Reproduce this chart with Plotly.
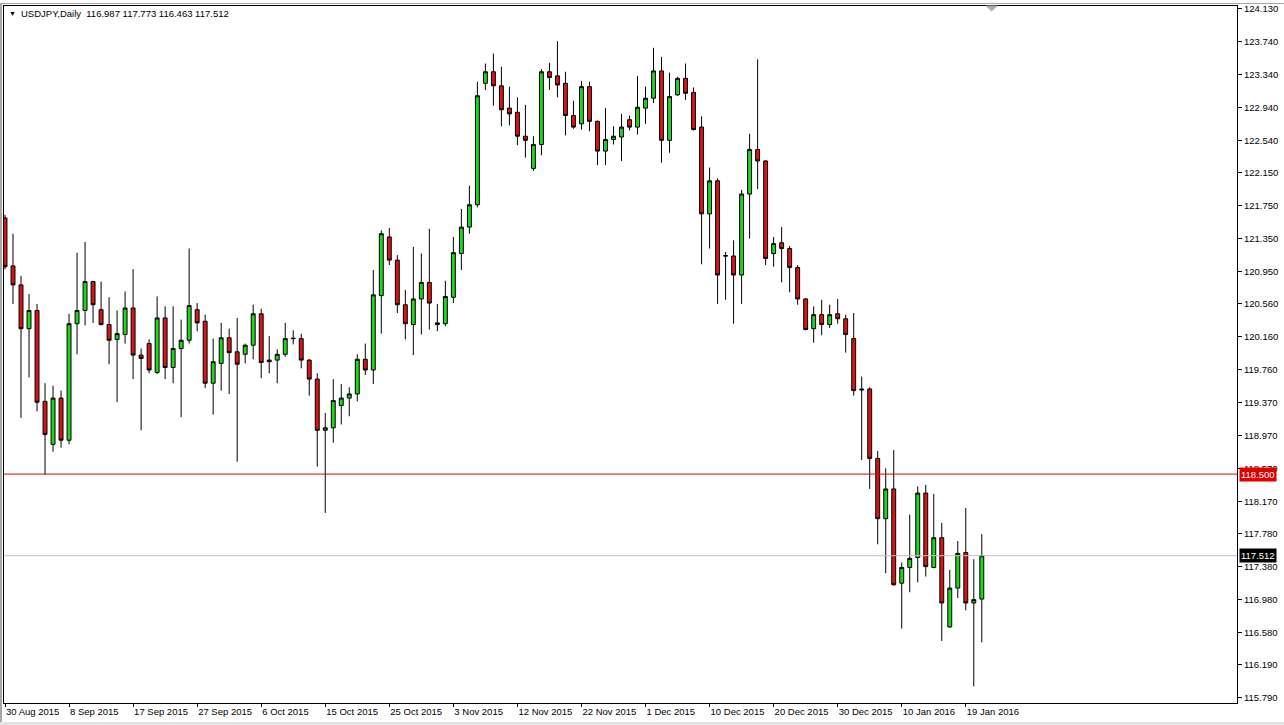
import pandas as pd
import plotly.graph_objects as go

# ---- categories: daily candles (broker with Sunday bars, no 25 Dec / 1 Jan bar)
dates = [d.strftime("%Y-%m-%d") for d in pd.date_range("2015-08-30", "2016-01-21")
         if d.weekday() != 5 and d.strftime("%m-%d") not in ("12-25", "01-01")]

open_ = [121.60, 121.02, 120.79, 120.26, 120.48, 119.38, 118.86, 119.42, 118.91, 120.32,
         120.48, 120.83, 120.49, 120.31, 120.13, 120.19, 120.51, 119.94, 120.08, 119.73,
         120.39, 119.79, 120.02, 120.12, 120.49, 120.35, 119.60, 119.84, 120.15, 119.98,
         119.95, 120.06, 120.44, 119.88, 119.88, 119.95, 120.145, 120.14, 119.88, 119.65,
         119.03, 119.06, 119.33, 119.42, 119.47, 119.89, 119.76, 120.66, 121.37, 121.09,
         120.55, 120.31, 120.62, 120.82, 120.31, 120.32, 120.64, 121.17, 121.49, 121.76,
         123.23, 123.37, 123.20, 122.93, 122.88, 122.59, 122.20, 122.49, 123.37, 123.32,
         123.23, 122.84, 122.74, 123.19, 122.77, 122.41, 122.55, 122.58, 122.79, 122.70,
         122.93, 123.05, 123.38, 122.54, 123.09, 123.29, 123.12, 122.70, 121.65, 122.05,
         121.145, 121.14, 120.91, 121.89, 122.43, 122.29, 121.17, 121.30, 121.23, 121.00,
         120.62, 120.26, 120.43, 120.31, 120.44, 120.38, 120.14, 119.53, 119.53, 118.69,
         117.96, 118.32, 117.18, 117.37, 117.49, 118.27, 117.37, 117.73, 116.65, 117.12,
         117.55, 116.94, 116.987]
high = [121.64, 121.41, 120.90, 120.68, 120.56, 119.60, 119.57, 119.51, 120.44, 121.18,
        121.31, 120.84, 120.83, 120.64, 120.48, 120.71, 120.98, 120.02, 120.13, 120.65,
        120.53, 120.53, 120.37, 121.23, 120.57, 120.43, 120.14, 120.33, 120.26, 120.39,
        120.08, 120.55, 120.50, 120.17, 120.01, 120.33, 120.24, 120.20, 119.89, 119.72,
        119.24, 119.65, 119.59, 119.55, 119.95, 120.08, 120.97, 121.45, 121.48, 121.15,
        120.73, 121.25, 121.17, 121.47, 120.56, 120.84, 121.37, 121.71, 121.99, 123.25,
        123.47, 123.59, 123.43, 123.19, 123.06, 122.97, 122.59, 123.40, 123.48, 123.74,
        123.37, 123.02, 123.26, 123.25, 122.78, 122.93, 122.71, 122.86, 122.84, 123.32,
        123.19, 123.66, 123.55, 123.36, 123.31, 123.47, 123.18, 122.83, 122.21, 122.08,
        121.19, 121.33, 121.94, 122.62, 123.52, 122.30, 121.37, 121.49, 121.26, 121.03,
        120.63, 120.53, 120.61, 120.55, 120.62, 120.43, 120.45, 119.68, 119.55, 118.78,
        118.57, 118.79, 117.43, 118.01, 118.35, 118.37, 118.26, 117.91, 117.34, 117.69,
        118.09, 117.47, 117.773]
low = [120.98, 120.56, 119.18, 119.67, 119.26, 118.49, 118.77, 118.82, 118.86, 119.95,
       120.30, 120.33, 120.30, 119.83, 119.37, 120.08, 119.65, 119.03, 119.72, 119.71,
       119.65, 119.60, 119.19, 120.08, 120.23, 119.54, 119.22, 119.51, 119.47, 118.65,
       119.84, 119.89, 119.66, 119.72, 119.60, 119.92, 120.07, 119.78, 119.45, 118.59,
       118.03, 118.88, 119.10, 119.20, 119.38, 119.70, 119.59, 120.20, 121.03, 120.45,
       120.13, 119.94, 120.19, 120.25, 120.23, 120.29, 120.57, 120.97, 121.41, 121.73,
       123.15, 122.96, 122.71, 122.72, 122.48, 122.33, 122.17, 122.36, 123.15, 123.06,
       122.60, 122.68, 122.67, 122.65, 122.24, 122.24, 122.49, 122.29, 122.66, 122.61,
       122.74, 122.99, 122.27, 122.39, 123.08, 123.03, 122.66, 121.04, 121.23, 120.56,
       120.61, 120.32, 120.56, 121.35, 121.95, 121.03, 121.01, 120.82, 120.70, 120.55,
       120.24, 120.09, 120.18, 120.27, 120.32, 119.97, 119.45, 118.67, 118.32, 117.65,
       117.30, 117.15, 116.63, 117.07, 117.19, 117.26, 117.36, 116.48, 116.64, 117.00,
       116.85, 115.93, 116.463]
close = [121.01, 120.79, 120.26, 120.48, 119.37, 118.98, 119.42, 118.91, 120.32, 120.48,
         120.83, 120.55, 120.31, 120.12, 120.20, 120.51, 119.94, 119.90, 119.76, 120.39,
         119.79, 120.02, 120.12, 120.54, 120.33, 119.60, 119.86, 120.15, 119.97, 119.83,
         120.06, 120.44, 119.85, 119.86, 119.95, 120.14, 120.14, 119.88, 119.65, 119.03,
         119.06, 119.39, 119.42, 119.47, 119.89, 119.76, 120.67, 121.41, 121.09, 120.55,
         120.32, 120.62, 120.82, 120.57, 120.33, 120.65, 121.18, 121.49, 121.76, 123.08,
         123.37, 123.20, 122.91, 122.86, 122.59, 122.54, 122.49, 123.37, 123.30, 123.21,
         122.84, 122.70, 123.19, 122.77, 122.41, 122.55, 122.59, 122.70, 122.70, 122.94,
         123.05, 123.38, 122.54, 123.07, 123.29, 123.11, 122.67, 121.65, 122.05, 120.91,
         121.14, 120.91, 121.89, 122.43, 122.29, 121.11, 121.29, 121.23, 121.00, 120.62,
         120.25, 120.43, 120.31, 120.43, 120.38, 120.19, 119.51, 119.52, 118.69, 117.96,
         118.32, 117.16, 117.37, 117.48, 118.27, 117.38, 117.73, 116.94, 117.12, 117.54,
         116.94, 116.98, 117.512]

# ---- axis labels
y_ticks = [124.130, 123.740, 123.340, 122.940, 122.540, 122.150, 121.750, 121.350, 120.950,
           120.560, 120.160, 119.760, 119.370, 118.970, 118.570, 118.170, 117.780, 117.380,
           116.980, 116.580, 116.190, 115.790]
x_tick_dates = ["2015-08-30", "2015-09-08", "2015-09-17", "2015-09-27", "2015-10-06",
                "2015-10-15", "2015-10-25", "2015-11-03", "2015-11-12", "2015-11-22",
                "2015-12-01", "2015-12-10", "2015-12-20", "2015-12-30", "2016-01-10",
                "2016-01-19"]
x_tick_text = ["30 Aug 2015", "8 Sep 2015", "17 Sep 2015", "27 Sep 2015", "6 Oct 2015",
               "15 Oct 2015", "25 Oct 2015", "3 Nov 2015", "12 Nov 2015", "22 Nov 2015",
               "1 Dec 2015", "10 Dec 2015", "20 Dec 2015", "30 Dec 2015", "10 Jan 2016",
               "19 Jan 2016"]
level_line = 118.500
bid_price = 117.512
symbol = "USDJPY,Daily"

FONT = "Tahoma, Liberation Sans, Arial, sans-serif"

fig = go.Figure(go.Candlestick(
    x=dates, open=open_, high=high, low=low, close=close,
    increasing=dict(line=dict(color="#000000", width=1), fillcolor="#1fd61f"),
    decreasing=dict(line=dict(color="#000000", width=1), fillcolor="#d81414"),
    whiskerwidth=0, hoverinfo="skip", showlegend=False,
))

fig.add_hline(y=level_line, line=dict(color="#e00000", width=1))
fig.add_hline(y=bid_price, line=dict(color="#c0c0c0", width=1))

fig.update_layout(
    width=1284, height=725,
    margin=dict(l=4, r=47, t=3, b=22),
    paper_bgcolor="white", plot_bgcolor="white",
    font=dict(family=FONT, size=10, color="black"),
    showlegend=False,
    xaxis=dict(
        type="category", range=[-0.125, 153.875],
        rangeslider=dict(visible=False),
        showgrid=False, zeroline=False,
        showline=True, linecolor="black", linewidth=1, mirror=True,
        ticks="outside", ticklen=3, tickcolor="black",
        tickvals=x_tick_dates, ticktext=x_tick_text,
        ticklabelposition="outside right",
        tickfont=dict(family=FONT, size=9.5, color="black"),
    ),
    yaxis=dict(
        side="right", range=[115.729, 124.166],
        showgrid=False, zeroline=False,
        showline=True, linecolor="black", linewidth=1, mirror=True,
        ticks="outside", ticklen=4, tickcolor="black",
        tickvals=y_ticks, ticktext=[f"{v:.3f}" for v in y_ticks],
        tickfont=dict(family=FONT, size=9.5, color="black"),
    ),
)

# price labels on the axis
fig.add_annotation(x=1, xref="paper", y=level_line, yref="y", xanchor="left", xshift=2,
                   text=f"{level_line:.3f}", showarrow=False, bgcolor="#e00000",
                   font=dict(family=FONT, size=9.5, color="white"), borderpad=1)
fig.add_annotation(x=1, xref="paper", y=bid_price, yref="y", xanchor="left", xshift=2,
                   text=f"{bid_price:.3f}", showarrow=False, bgcolor="#000000",
                   font=dict(family=FONT, size=9.5, color="white"), borderpad=1)

# header text
fig.add_annotation(x=0, xref="paper", y=1, yref="paper", xanchor="left", yanchor="top",
                   xshift=3, yshift=-2, text="▼", showarrow=False,
                   font=dict(family=FONT, size=7, color="black"))
fig.add_annotation(x=0, xref="paper", y=1, yref="paper", xanchor="left", yanchor="top",
                   xshift=15, yshift=0,
                   text=f"{symbol}  {open_[-1]:.3f} {high[-1]:.3f} {low[-1]:.3f} {close[-1]:.3f}",
                   showarrow=False, font=dict(family=FONT, size=9.5, color="black"))

# chart shift marker
fig.add_shape(type="path", xref="paper", yref="paper",
              path="M 0.7965 1 L 0.8055 1 L 0.801 0.993 Z",
              fillcolor="#b0b0b0", line=dict(color="#b0b0b0", width=1))

# window frame (grey edges of the terminal window)
PW, PH = 1233.0, 700.0
fig.add_shape(type="rect", xref="paper", yref="paper", layer="above",
              x0=-4 / PW, x1=-2 / PW, y0=-22 / PH, y1=1 + 3 / PH,
              fillcolor="#a8a8a8", line=dict(width=0))
fig.add_shape(type="rect", xref="paper", yref="paper", layer="above",
              x0=-4 / PW, x1=1280 / PW, y0=1 + 2 / PH, y1=1 + 3 / PH,
              fillcolor="#a8a8a8", line=dict(width=0))
fig.add_shape(type="rect", xref="paper", yref="paper", layer="above",
              x0=-4 / PW, x1=1280 / PW, y0=-22 / PH, y1=-19 / PH,
              fillcolor="#e4e4e4", line=dict(width=0))

fig.write_html("out.html", config={"displayModeBar": False},
               post_script="document.body.style.margin='0';document.body.style.overflow='hidden';")
